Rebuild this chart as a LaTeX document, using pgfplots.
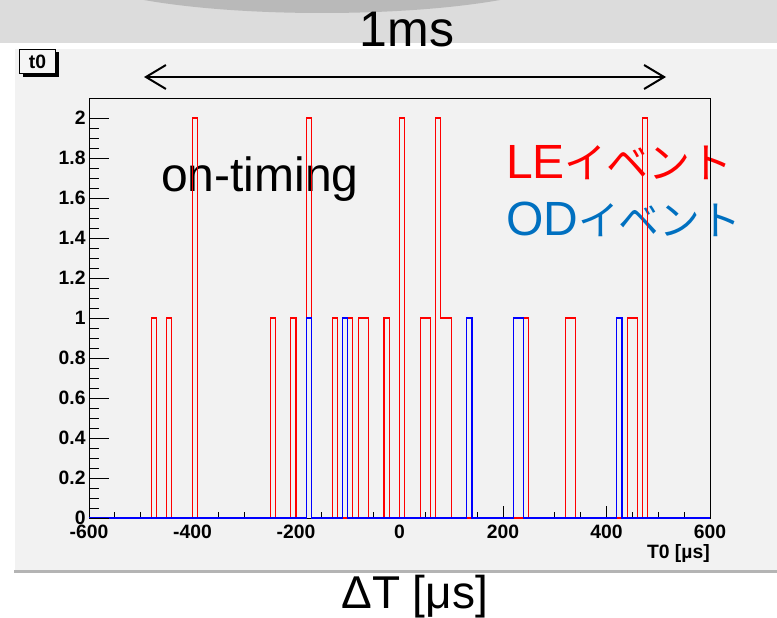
\documentclass[border=0pt]{standalone}
\usepackage{fontspec}
\setmainfont{Liberation Sans}
\newfontfamily\cjk{Noto Sans CJK JP}
\usepackage{pgfplots}
\pgfplotsset{compat=1.18}
\usetikzlibrary{arrows.meta}
\definecolor{band}{RGB}{220,220,220}
\definecolor{ell}{RGB}{185,185,185}
\definecolor{canvas}{RGB}{242,242,242}
\definecolor{odblue}{RGB}{0,112,192}
\definecolor{lined}{RGB}{180,180,180}
\newcommand{\fs}[1]{\fontsize{#1}{#1}\selectfont}
\begin{document}
\begin{tikzpicture}
\begin{scope}[x=0.75pt,y=-0.75pt]
\useasboundingbox (0,0) rectangle (777,617);
\fill[white] (0,0) rectangle (777,617);
\fill[band] (0,0) rectangle (777,43);
\begin{scope}
\clip (0,0) rectangle (777,43);
\fill[ell] (322,-30.6) ellipse [x radius=250, y radius=43.6];
\end{scope}
\fill[canvas] (15,49) rectangle (777,570);
\fill[lined] (14,570) rectangle (777,573);
% t0 box
\fill[black] (22.5,52.5) rectangle (58.5,76.5);
\filldraw[fill=white!96!black, draw=black, line width=0.75pt] (19.5,49.5) rectangle (55.5,73.5);
\node[font=\fs{14.5}\bfseries, inner sep=0] at (37.5,61.5) {t0};
% annotations
\node[anchor=base, font=\fs{37.5}, inner sep=0] at (407,47) {1ms};
\draw[line width=1.5pt, {Straight Barb[length=15pt,width=18pt]}-{Straight Barb[length=15pt,width=18pt]}] (144,77) -- (666,77);
\node[anchor=base west, font=\fs{36}, inner sep=0] at (161,191) {on-timing};
\node[anchor=base west, font=\fs{36}, inner sep=0, text=red] at (506,178) {LE{\cjk\fs{31.5}イベント}};
\node[anchor=base west, font=\fs{36}, inner sep=0, text=odblue] at (506,235) {OD{\cjk\fs{30.5}イベント}};
\node[anchor=base east, font=\fs{14.5}\bfseries, inner sep=0] at (710,558) {T0 [µs]};
\node[anchor=base west, font=\fs{34.5}, inner sep=0] at (341,608) {ΔT [μs]};
\end{scope}
% main histogram axis
\begin{axis}[at={(66.75pt,-388.5pt)}, anchor=south west, scale only axis,
  width=465.75pt, height=315pt,
  xmin=-600, xmax=600, ymin=0, ymax=2.1,
  axis line style={black, line width=0.75pt},
  xtick={-600,-400,...,600}, minor x tick num=3,
  ytick={0,0.2,0.4,0.6,0.8,1,1.2,1.4,1.6,1.8,2},
  yticklabels={0,0.2,0.4,0.6,0.8,1,1.2,1.4,1.6,1.8,2},
  tick align=inside, xtick pos=bottom, ytick pos=left,
  major tick length=9pt, minor tick length=4.5pt,
  xtick style={black, line width=0.75pt},
  ytick style={draw=none},
  ticklabel style={font=\fs{14.5}\bfseries},
  yticklabel style={xshift=1pt},
  /pgf/number format/assume math mode=true,
  xticklabel style={yshift=-1.5pt},
  clip=false]
\addplot[const plot, red, line width=0.8pt] coordinates {
(-600,0) (-480,1) (-470,0) (-450,1) (-440,0) (-400,2) (-390,0)
(-250,1) (-240,0) (-210,1) (-200,0) (-180,2) (-170,0) (-130,1) (-120,0)
(-100,1) (-90,0) (-80,1) (-60,0) (-30,1) (-20,0) (0,2) (10,0)
(40,1) (60,0) (70,2) (80,1) (100,0) (240,1) (250,0) (320,1) (340,0)
(440,1) (460,0) (470,2) (480,0) (600,0)};
\addplot[const plot, blue, line width=0.9pt] coordinates {
(-600,0) (-180,1) (-170,0) (-110,1) (-100,0) (130,1) (140,0)
(220,1) (240,0) (420,1) (430,0) (600,0)};
\end{axis}
% overlay axis for the longer y ticks
\begin{axis}[at={(66.75pt,-388.5pt)}, anchor=south west, scale only axis,
  width=465.75pt, height=315pt,
  xmin=-600, xmax=600, ymin=0, ymax=2.1,
  axis line style={draw=none},
  xtick=\empty,
  ytick={0,0.2,0.4,0.6,0.8,1,1.2,1.4,1.6,1.8,2}, minor y tick num=3,
  yticklabels={},
  tick align=inside, ytick pos=left,
  major tick length=15pt, minor tick length=7.5pt,
  ytick style={black, line width=0.75pt}]
\end{axis}
\end{tikzpicture}
\end{document}
